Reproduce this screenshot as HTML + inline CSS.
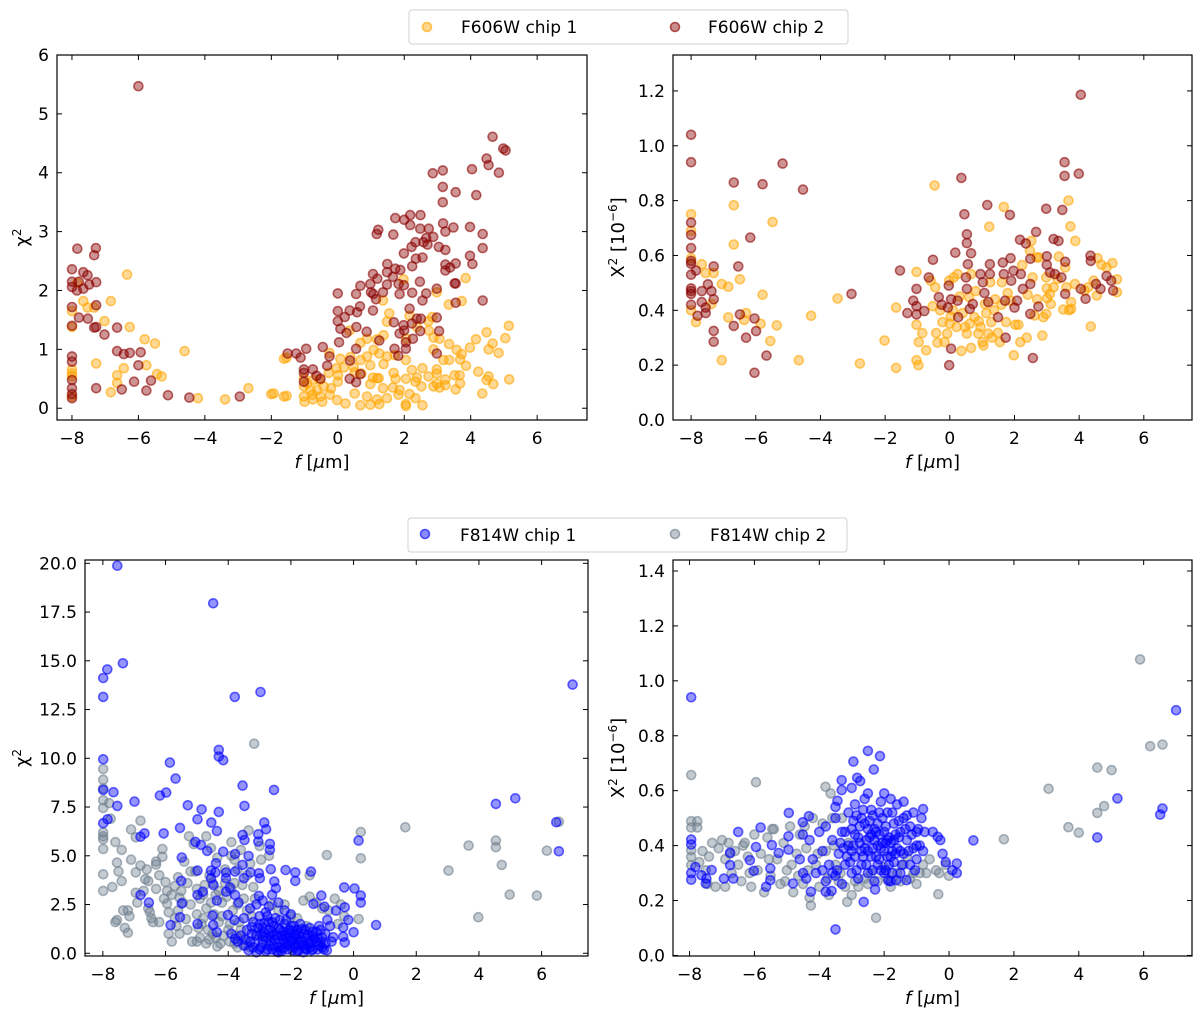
<!DOCTYPE html>
<html><head><meta charset="utf-8">
<style>
html,body{margin:0;padding:0;background:#fff;}
svg{display:block;font-family:"DejaVu Sans","Liberation Sans",sans-serif;}
</style></head>
<body>
<svg id="fig" width="1200" height="1013" viewBox="0 0 1200 1013" xmlns="http://www.w3.org/2000/svg">
  <g>
    <rect x="409" y="10" width="439" height="34" rx="3" fill="#fff" stroke="#d0d0d0"/>
    <circle cx="427" cy="27" r="4.5" fill="rgba(255,165,0,0.45)" stroke="rgba(255,165,0,0.65)" stroke-width="1.6"/>
    <text x="461" y="33" font-size="17">F606W chip 1</text>
    <circle cx="675" cy="27" r="4.5" fill="rgba(139,0,0,0.45)" stroke="rgba(139,0,0,0.65)" stroke-width="1.6"/>
    <text x="708" y="33" font-size="17">F606W chip 2</text>
  </g>
  <g>
    <rect x="408" y="518" width="439" height="34" rx="3" fill="#fff" stroke="#d0d0d0"/>
    <circle cx="425" cy="534" r="4.5" fill="rgba(0,0,255,0.45)" stroke="rgba(0,0,255,0.65)" stroke-width="1.6"/>
    <text x="460" y="541" font-size="17">F814W chip 1</text>
    <circle cx="675" cy="534" r="4.5" fill="rgba(112,128,144,0.45)" stroke="rgba(112,128,144,0.65)" stroke-width="1.6"/>
    <text x="710" y="541" font-size="17">F814W chip 2</text>
  </g>
</svg>
<script>
// ---------- DATA ----------
const xTicks = [-8,-6,-4,-2,0,2,4,6];
const yTicksTL = [0,1,2,3,4,5,6];
const yTicksTLLabels = ["0","1","2","3","4","5","6"];
const yTicksTR = [0,0.2,0.4,0.6,0.8,1.0,1.2];
const yTicksTRLabels = ["0.0","0.2","0.4","0.6","0.8","1.0","1.2"];
const yTicksBL = [0,2.5,5,7.5,10,12.5,15,17.5,20];
const yTicksBLLabels = ["0.0","2.5","5.0","7.5","10.0","12.5","15.0","17.5","20.0"];
const yTicksBR = [0,0.2,0.4,0.6,0.8,1.0,1.2,1.4];
const yTicksBRLabels = ["0.0","0.2","0.4","0.6","0.8","1.0","1.2","1.4"];

// top-left: F606W chi2
const tlChip1 = [[-6.34,2.27],[-7.84,2.13],[-7.66,1.82],[-7.53,1.71],[-7.33,1.71],[-6.83,1.82],[-8,1.65],[-7.02,1.48],[-8,1.38],[-6.26,1.38],[-5.81,1.17],[-5.5,1.1],[-4.61,0.97],[-7.27,0.76],[-8,0.66],[-8,0.59],[-8,0.54],[-6.44,0.68],[-6.64,0.56],[-6.64,0.43],[-5.76,0.73],[-5.44,0.58],[-5.3,0.54],[-6.83,0.27],[-8,0.2],[-4.21,0.17],[-3.39,0.15],[-2.69,0.34],[-1.93,0.25],[-1.54,0.21],[-1.54,0.86],
[3.85,2.21],[1.98,2.19],[2.98,1.97],[1.36,1.83],[3.34,1.76],[3.73,1.82],[1.55,1.61],[1.48,1.47],[2.16,1.57],[2.84,1.55],[2.73,1.48],[0.36,1.32],[2.38,1.38],[2.74,1.32],[5.15,1.4],[4.48,1.29],[1.38,1.24],[0.68,1.11],[0.88,1.18],[1.18,1.17],[2.06,1.18],[2.88,1.2],[3.06,1.18],[4.16,1.17],[5.04,1.19],[4.66,1.1],[4.54,1.0],[4.84,0.94],[3.98,1.03],[3.35,1.09],[3.58,0.99],[3.73,0.92],[-0.25,0.94],[0.08,0.84],[0.38,0.87],[0.69,0.82],[0.88,0.88],[1.08,0.99],[1.25,0.93],[1.48,0.88],[1.72,0.9],[2.05,0.82],[2.88,1.0],[3.18,0.82],[3.35,0.82],[3.68,0.83],[3.86,0.72],[-1.62,0.84],[-0.04,0.68],[0.18,0.69],[0.48,0.7],[0.51,0.61],[0.71,0.59],[0.98,0.73],[1.38,0.75],[-1.02,0.51],[-0.92,0.42],[-0.74,0.48],[-0.55,0.48],[-0.42,0.37],[-0.27,0.6],[0.01,0.56],[1.06,0.52],[1.23,0.51],[1.68,0.6],[1.74,0.5],[2.05,0.5],[2.23,0.65],[2.38,0.52],[2.55,0.68],[2.73,0.54],[2.98,0.66],[2.98,0.59],[3.24,0.49],[3.52,0.56],[3.67,0.56],[4.23,0.62],[4.54,0.54],[5.16,0.49],[4.48,0.48],[4.68,0.41],[3.68,0.42],[-1.02,0.37],[-0.82,0.31],[-0.62,0.31],[-0.2,0.34],[0,0.45],[0.98,0.41],[1.18,0.51],[1.36,0.34],[1.66,0.35],[1.86,0.31],[2.34,0.45],[2.52,0.37],[2.98,0.42],[3.24,0.39],[-2.0,0.24],[-1.62,0.2],[-1.02,0.2],[-1.0,0.11],[-0.75,0.15],[-0.52,0.2],[-0.47,0.11],[-0.24,0.23],[-0.02,0.14],[0.23,0.08],[0.51,0.25],[0.68,0.05],[0.88,0.2],[0.98,0.06],[1.18,0.15],[1.25,0.07],[1.48,0.17],[1.83,0.23],[2.05,0.07],[2.05,0.04],[2.16,0.24],[2.34,0.17],[2.55,0.05],[2.88,0.37],[3.06,0.35],[3.55,0.32],[4.35,0.25],[-0.76,0.23]];
const tlChip2 = [[-6,5.47],[-7.84,2.71],[-7.28,2.72],[-7.33,2.6],[-8,2.36],[-7.66,2.31],[-7.53,2.26],[-8,2.15],[-8,2.06],[-7.79,2.15],[-7.48,2.1],[-7.27,2.14],[-7.66,2.03],[-7.85,2.0],[-8,1.72],[-7.27,1.75],[-7.79,1.54],[-7.52,1.52],[-8,1.4],[-7.33,1.37],[-7.27,1.38],[-7.02,1.25],[-6.64,1.37],[-6.64,0.97],[-6.44,0.92],[-6.26,0.94],[-5.93,0.95],[-6,0.73],[-8,0.88],[-8,0.79],[-8,0.48],[-8,0.34],[-8,0.24],[-8,0.17],[-7.27,0.34],[-6.5,0.32],[-6.13,0.45],[-5.76,0.3],[-5.62,0.47],[-5.11,0.22],[-4.47,0.18],[-2.95,0.2],
[4.66,4.61],[4.98,4.41],[5.05,4.38],[4.48,4.24],[4.54,4.13],[4.85,4.0],[2.86,3.99],[3.16,4.04],[4.04,4.06],[3.16,3.76],[3.55,3.67],[4.17,3.62],[3.16,3.5],[1.73,3.23],[2.0,3.2],[2.18,3.28],[2.18,3.11],[2.49,3.28],[3.17,3.14],[3.48,3.07],[3.98,3.08],[3.24,3.0],[2.48,3.05],[2.74,3.05],[1.22,3.03],[1.17,2.96],[1.67,2.95],[4.36,2.96],[2.87,2.91],[2.66,2.89],[2.58,2.82],[2.34,2.82],[2.22,2.74],[2.7,2.78],[3.04,2.74],[3.24,2.69],[4.36,2.72],[1.99,2.63],[2.35,2.54],[2.55,2.56],[3.98,2.59],[4.05,2.45],[1.49,2.45],[1.73,2.37],[1.88,2.35],[2.24,2.41],[3.24,2.44],[3.24,2.34],[3.38,2.39],[3.55,2.46],[1.06,2.28],[1.19,2.2],[1.48,2.31],[1.66,2.23],[2.47,2.15],[3.52,2.12],[3.55,2.12],[0.68,2.08],[0.98,2.11],[1.0,1.97],[1.48,2.1],[1.83,2.11],[1.99,2.09],[2.98,2.03],[0,1.95],[0.55,1.94],[1.07,1.94],[1.36,1.97],[1.86,1.94],[2.24,1.96],[2.66,1.95],[1.15,1.85],[2.55,1.83],[4.36,1.83],[0.67,1.73],[0.36,1.66],[0.58,1.63],[0,1.65],[1.06,1.66],[2.16,1.69],[3.55,1.79],[0.21,1.55],[0,1.48],[1.69,1.46],[2.38,1.52],[2.5,1.52],[2.98,1.54],[0.08,1.35],[0.56,1.38],[1.98,1.41],[2.23,1.44],[0.26,1.28],[0.87,1.3],[1.86,1.27],[2.0,1.32],[2.48,1.31],[3.05,1.31],[0.04,1.12],[1.25,1.15],[2.26,1.18],[2.05,1.12],[-1.51,0.93],[-1.25,0.93],[-1.12,0.86],[-0.95,1.01],[-0.45,1.04],[0.55,1.01],[1.71,1.01],[2.05,1.01],[-0.25,0.88],[0.37,0.81],[1.82,0.89],[2.98,0.93],[-1.02,0.66],[-1.02,0.6],[-0.75,0.66],[-0.52,0.5],[0.36,0.5],[0.55,0.44],[-0.32,0.72],[0.68,0.58],[-1.02,0.45],[-0.64,0.55]];

// top-right: F606W X2 [1e-6]
const trChip1 = [[-8,0.75],[-8,0.69],[-8,0.59],[-8,0.4],[-7.85,0.357],[-7.67,0.568],[-7.55,0.536],[-7.3,0.536],[-7.37,0.423],[-7.05,0.496],[-7.05,0.218],[-6.85,0.486],[-6.85,0.374],[-6.68,0.783],[-6.68,0.64],[-6.49,0.513],[-6.36,0.365],[-6.3,0.39],[-5.85,0.351],[-5.79,0.457],[-5.55,0.288],[-5.48,0.722],[-5.35,0.345],[-4.67,0.218],[-4.29,0.38],[-3.47,0.443],[-2.78,0.206],[-2.02,0.29],[-1.66,0.19],[-1.66,0.41],[-1.03,0.54],[-1.03,0.347],[-1.03,0.218],[-0.97,0.2],[-0.96,0.284],[-0.85,0.317],[-0.73,0.254],[-0.59,0.508],[-0.53,0.415],[-0.47,0.855],[-0.45,0.484],[-0.42,0.317],[-0.38,0.282],[-0.23,0.357],[-0.16,0.284],[-0.08,0.315],[-0.02,0.508],[0.0,0.351],[0.03,0.377],[0.12,0.52],[0.21,0.339],[0.24,0.532],[0.36,0.252],[0.4,0.39],[0.47,0.339],[0.53,0.315],[0.6,0.448],[0.62,0.351],[0.66,0.263],[0.66,0.532],[0.76,0.375],[0.88,0.315],[0.95,0.339],[1.01,0.284],[1.04,0.272],[1.09,0.423],[1.13,0.39],[1.19,0.315],[1.22,0.705],[1.25,0.502],[1.28,0.357],[1.37,0.4],[1.49,0.318],[1.55,0.284],[1.61,0.502],[1.67,0.777],[1.74,0.357],[1.79,0.463],[1.88,0.435],[1.98,0.236],[2.03,0.347],[2.12,0.347],[2.18,0.284],[2.24,0.565],[2.38,0.3],[2.41,0.457],[2.48,0.617],[2.52,0.653],[2.56,0.52],[2.62,0.381],[2.68,0.593],[2.76,0.593],[2.86,0.308],[2.89,0.375],[2.98,0.387],[2.98,0.52],[3.01,0.444],[3.1,0.46],[3.12,0.423],[3.21,0.484],[3.33,0.514],[3.37,0.596],[3.51,0.403],[3.57,0.556],[3.61,0.484],[3.67,0.8],[3.69,0.4],[3.73,0.706],[3.75,0.43],[3.88,0.653],[3.87,0.496],[4.17,0.472],[4.28,0.484],[4.36,0.341],[4.45,0.508],[4.57,0.59],[4.55,0.454],[4.69,0.566],[4.85,0.556],[5.03,0.572],[5.17,0.513],[5.17,0.466],[3.75,0.405],
[0.3,0.45],[0.8,0.47],[1.4,0.44],[1.6,0.42],[2.7,0.44],[3.0,0.48],[0.1,0.4],[-0.3,0.4],[0.9,0.36],[1.3,0.3]];
const trChip2 = [[-8,1.04],[-8,0.94],[-8,0.72],[-8,0.675],[-8,0.627],[-8,0.58],[-8,0.57],[-8,0.53],[-8,0.48],[-8,0.47],[-8,0.46],[-8,0.42],[-7.85,0.545],[-7.67,0.47],[-7.48,0.495],[-7.3,0.56],[-7.37,0.47],[-7.3,0.44],[-7.67,0.43],[-7.55,0.41],[-7.55,0.39],[-7.8,0.38],[-7.3,0.325],[-7.3,0.285],[-6.68,0.866],[-6.68,0.343],[-6.54,0.56],[-6.49,0.385],[-6.3,0.3],[-6.17,0.665],[-6.04,0.37],[-5.99,0.324],[-5.79,0.86],[-5.67,0.235],[-6.04,0.172],[-5.17,0.935],[-4.54,0.84],[-3.04,0.46],[-1.54,0.545],[-1.31,0.39],[-1.13,0.435],[-1.03,0.478],[-1.03,0.415],[-1.03,0.385],[-0.79,0.397],[-0.65,0.52],[-0.52,0.584],[-0.34,0.448],[-0.25,0.42],[-0.03,0.49],[0.04,0.44],[-0.06,0.41],[-0.02,0.2],[0.04,0.26],[0.17,0.61],[0.24,0.435],[0.26,0.375],[0.36,0.883],[0.45,0.75],[0.5,0.52],[0.53,0.478],[0.53,0.677],[0.53,0.645],[0.56,0.568],[0.62,0.405],[0.66,0.608],[0.71,0.423],[0.95,0.532],[1.02,0.502],[1.07,0.463],[1.16,0.784],[1.19,0.43],[1.24,0.568],[1.24,0.532],[1.49,0.375],[1.64,0.574],[1.67,0.532],[1.71,0.435],[1.73,0.3],[1.86,0.748],[1.88,0.59],[1.9,0.508],[1.97,0.544],[2.0,0.41],[2.08,0.435],[2.17,0.657],[2.2,0.532],[2.26,0.478],[2.35,0.644],[2.49,0.588],[2.49,0.496],[2.49,0.387],[2.57,0.226],[2.67,0.686],[2.74,0.414],[2.98,0.77],[3.0,0.597],[3.0,0.566],[3.1,0.538],[3.21,0.66],[3.25,0.532],[3.36,0.653],[3.45,0.52],[3.48,0.766],[3.55,0.94],[3.55,0.89],[3.57,0.577],[3.57,0.46],[3.99,0.898],[4.05,1.186],[4.05,0.478],[4.2,0.442],[4.35,0.599],[4.36,0.58],[4.52,0.496],[4.66,0.478],[4.85,0.525],[4.99,0.508],[5.05,0.472]];

// bottom-left: F814W chi2
const blChip1 = [[-7.54,19.88],[-4.48,17.95],[-7.99,14.12],[-7.86,14.56],[-7.36,14.87],[-7.99,13.15],[-3.79,13.15],[-2.97,13.4],[6.99,13.78],[-7.99,9.95],[-4.3,10.43],[-4.3,10.09],[-4.16,9.9],[-5.86,9.78],[-5.68,8.96],[-3.54,8.6],[-2.54,8.38],[-5.98,8.24],[-6.18,8.09],[-7.99,8.38],[-7.66,8.26],[-6.99,7.78],[-7.54,7.56],[-5.29,7.59],[-4.85,7.38],[-4.3,7.25],[-3.48,7.56],[4.54,7.66],[5.16,7.95],[-7.99,6.67],[-7.85,6.87],[-4.98,6.87],[-4.54,6.7],[-2.85,6.7],[6.47,6.72],[-5.54,6.43],[-4.36,6.27],[-2.79,6.36],[-6.06,6.15],[-6.67,6.15],[-6.8,5.98],[-3.54,6.07],[-3.04,6.1],[-3.48,5.81],[-3.04,5.73],[0.16,5.78],[-5.05,5.71],[-4.87,5.56],[-2.67,5.61],[-2.67,5.3],[-4.67,5.25],[-4.16,5.21],[-3.78,5.09],[-3.35,4.99],[-5.48,4.91],[6.55,5.23],[-4.39,4.62],[-3.54,4.53],[-4.55,4.24],[-4.41,4.14],[-4.07,4.14],[-3.78,4.19],[-3.29,4.14],[-3.02,4.1],[-2.64,4.31],[-2.17,4.27],[-1.86,4.15],[-1.36,4.19],[-4.98,4.24],[-5.5,3.71],[-4.55,3.85],[-4.07,3.85],[-3.5,3.85],[-2.99,3.85],[-2.53,3.68],[-1.86,3.71],[-4.47,3.5],[-3.95,3.38],[-2.48,3.33],[-0.3,3.38],[0.03,3.32],[-4.07,3.16],[-4.81,3.16],[-3.78,2.99],[-3.02,2.94],[-6.8,2.99],[-4.98,2.99],[-1.03,2.96],[0.23,2.96],[-6.53,2.6],[-5.48,2.56],[-4.36,2.7],[-3.67,2.6],[-1.28,2.53],[-0.93,2.39],[-0.28,2.36],[0.23,2.6],[-0.56,2.19],[-4.5,1.93],[-4.01,1.97],[-5.54,1.85],[-5.84,1.45],[-4.48,1.45],[-4.98,1.5],[-4.36,1.08],[0.72,1.45],[-0.17,1.71],[-0.33,1.32],[0.0,1.08],[-0.33,0.85],[-0.28,0.56],[-0.65,0.82],[-0.84,1.71],[-3.78,0.74],
[-3.4,1.2],[-3.3,0.6],[-3.2,1.6],[-3.2,0.3],[-3.1,0.9],[-3.0,1.9],[-3.0,0.2],[-2.9,1.3],[-2.9,0.5],[-2.8,2.1],[-2.8,0.8],[-2.8,0.1],[-2.7,1.6],[-2.7,0.4],[-2.6,1.1],[-2.6,0.2],[-2.5,1.8],[-2.5,0.7],[-2.4,1.3],[-2.4,0.3],[-2.3,0.9],[-2.3,0.1],[-2.2,1.5],[-2.2,0.5],[-2.1,1.0],[-2.1,0.2],[-2.0,1.4],[-2.0,0.6],[-1.9,0.9],[-1.9,0.3],[-1.8,1.2],[-1.8,0.1],[-1.7,0.7],[-1.7,1.5],[-1.6,0.4],[-1.6,1.0],[-1.5,0.8],[-1.5,0.2],[-1.4,1.3],[-1.4,0.5],[-1.3,0.9],[-1.3,0.2],[-1.2,0.6],[-1.2,1.1],[-1.1,0.4],[-1.1,1.4],[-1.0,0.8],[-1.0,0.3],[-0.9,1.0],[-0.9,0.5],[-3.6,0.9],[-3.5,0.4],[-3.5,1.8],[-3.3,2.3],[-3.1,2.5],[-2.9,2.7],[-2.7,2.4],[-2.6,3.0],[-2.4,2.6],[-2.2,2.2],[-2.0,2.0],[-3.9,1.0],[-3.8,1.7],[-3.7,0.6],[-2.95,1.0],[-2.65,0.65],[-2.35,1.2],[-2.05,0.85],[-1.75,0.45],[-1.45,0.95],[-1.15,0.75],[-3.25,1.0],[-2.85,1.55],[-2.55,0.95],[-2.25,0.7],[-1.95,1.15],[-1.65,1.25],[-1.35,0.65],[-1.05,1.2],[-0.85,0.15],[-0.75,1.4],[-0.7,0.6],
[-3.35,0.15],[-3.15,0.55],[-3.05,1.3],[-2.95,0.3],[-2.85,1.05],[-2.75,0.2],[-2.75,1.9],[-2.65,0.9],[-2.55,0.4],[-2.55,1.4],[-2.45,0.1],[-2.45,0.9],[-2.35,0.55],[-2.35,1.7],[-2.25,0.25],[-2.25,1.1],[-2.15,0.75],[-2.15,1.7],[-2.05,0.4],[-2.05,1.2],[-1.95,0.15],[-1.95,0.65],[-1.85,0.95],[-1.85,0.4],[-1.75,0.15],[-1.75,1.0],[-1.65,0.6],[-1.55,0.25],[-1.55,1.2],[-1.45,0.5],[-1.35,0.15],[-1.25,0.8],[-1.15,0.2],[-1.05,0.55],[-0.95,0.2],[-3.45,0.7],[-3.25,1.35],[-3.1,0.05],[-2.9,0.85],[-2.6,1.6],[-2.4,0.05],[-2.1,0.45],[-1.9,1.4],[-1.6,0.05],[-1.3,1.1],[-3.0,1.5],[-2.7,1.2],[-2.2,0.95],[-1.8,0.7],[-1.4,0.3]];
const blChip2 = [[-3.17,10.75],[1.65,6.46],[0.23,6.22],[0.23,4.87],[-0.85,5.04],[3.67,5.52],[4.54,5.78],[4.54,5.44],[4.73,4.53],[3.03,4.24],[3.98,1.85],[4.98,3.01],[5.85,2.96],[6.17,5.26],[6.55,6.75],[0.16,1.76],
[-7.99,9.45],[-7.99,8.9],[-7.99,8.45],[-7.99,7.85],[-7.99,7.45],[-7.99,6.2],[-7.99,6.0],[-7.99,5.85],[-7.99,5.35],[-7.99,4.05],[-7.99,3.2],[-7.8,7.7],[-7.75,6.9],[-7.6,5.7],[-7.55,4.65],[-7.5,4.2],[-7.4,5.3],[-7.4,3.7],[-7.55,1.7],[-7.6,1.6],[-7.35,2.2],[-7.2,2.2],[-7.15,1.9],[-7.3,1.3],[-7.2,1.05],[-7.1,6.35],[-6.95,5.95],[-6.95,4.15],[-6.95,3.1],[-6.8,4.5],[-6.8,6.8],[-6.7,3.2],[-6.65,3.8],[-6.55,3.7],[-6.55,2.3],[-6.5,2.1],[-6.45,1.8],[-6.4,1.6],[-6.3,4.7],[-6.3,4.55],[-6.2,4.0],[-6.2,1.6],[-6.1,5.35],[-6.1,4.95],[-6.0,3.65],[-5.95,3.2],[-5.95,2.55],[-5.9,1.0],[-5.8,3.0],[-5.7,3.45],[-5.65,1.4],[-5.6,3.9],[-5.55,2.85],[-5.5,3.2],[-5.45,2.6],[-5.35,1.75],[-5.3,1.2],[-5.25,6.0],[-5.2,4.2],[-5.2,2.5],[-5.15,0.6],[-5.1,5.6],[-5.05,4.2],[-5.0,3.3],[-5.0,2.0],[-5.0,0.6],[-4.9,2.8],[-4.85,1.5],[-4.8,3.0],[-4.7,6.0],[-4.7,2.3],[-4.65,1.2],[-4.6,0.7],[-4.55,5.4],[-4.5,3.6],[-4.45,2.0],[-4.4,0.8],[-4.35,4.9],[-4.3,3.2],[-4.3,1.6],[-4.25,0.5],[-4.2,2.6],[-4.1,4.3],[-4.0,1.2],[-3.95,0.6],[-3.9,5.7],[-3.9,5.0],[-3.85,2.2],[-3.8,3.6],[-3.75,0.9],[-3.7,4.3],[-3.65,1.6],[-3.6,5.3],[-3.5,2.8],[-3.45,0.4],[-3.4,4.0],[-3.35,6.3],[-3.2,3.4],[-3.1,1.0],[-3.0,5.5],[-2.95,4.8],[-2.7,5.0],[-2.6,2.5],[-2.4,2.2],[-2.2,2.5],[-2.0,1.9],[-1.8,1.8],[-1.6,2.7],[-1.4,4.0],[-1.4,2.9],[-1.2,2.6],[-1.0,2.3],[-0.8,2.2],[-0.6,2.8],[-0.4,2.5],[-0.3,1.9],[-0.5,1.5],[-1.7,0.5],[-1.5,1.4],[-2.3,0.3],[-2.8,0.6],[-3.3,0.3],
[-4.9,0.8],[-4.8,1.8],[-4.7,0.5],[-4.55,2.6],[-4.5,1.0],[-4.4,3.0],[-4.2,1.9],[-4.15,0.9],[-4.05,2.9],[-3.95,1.5],[-3.9,3.3],[-3.8,0.5],[-3.7,2.5],[-3.6,1.2],[-3.55,3.5],[-3.5,0.7],[-3.4,2.2],[-3.3,4.6],[-3.25,1.9],[-3.15,2.8],[-5.4,4.7],[-5.3,3.6],[-5.6,2.2],[-5.7,1.8],[-5.9,2.1],[-6.05,2.8],[-6.3,3.3],[-6.6,4.3],[-6.9,2.6],[-7.1,4.8],[-7.7,3.4],[-4.95,1.3],[-4.6,4.0],[-4.75,3.5],[-4.1,3.6],[-3.8,4.8],[-5.55,1.0],[-5.8,0.6],[-4.35,0.35],[-3.7,0.3]];

// bottom-right: F814W X2 [1e-6]
const brChip1 = [[-7.95,0.94],[7.0,0.893],[-3.5,0.095],[-2.63,0.195],[-2.5,0.745],[-2.13,0.726],[-2.32,0.677],[-2.95,0.706],[-3.31,0.638],[-2.83,0.647],[-2.74,0.635],[-3.31,0.602],[-3.0,0.61],[-3.44,0.563],[-3.5,0.541],[0.75,0.419],[5.19,0.572],[6.58,0.535],[6.51,0.513],[4.57,0.43],[-4.94,0.519],[-6.5,0.45],[-5.81,0.466],[-7.95,0.422],[-7.95,0.404],[-5.95,0.395],[-6.75,0.374],[-7.82,0.322],[-7.95,0.3],[-7.95,0.276],[-7.63,0.292],[-7.48,0.28],[-7.5,0.262],[-7.32,0.311],[-6.94,0.28],[-6.65,0.28],[-6.75,0.329],[-6.14,0.347],[-6.02,0.308],[-5.64,0.25],[-5.51,0.274],[-5.51,0.317],[-5.46,0.402],[-5.25,0.373],[-4.95,0.385],[-4.95,0.434],[-4.81,0.262],[-4.51,0.485],[-4.51,0.44],[-4.32,0.507],[-4.26,0.232],[-3.8,0.232],[-3.62,0.235],[-2.28,0.24],[-1.63,0.274],[-1.31,0.274],[-1.87,0.272],[-0.35,0.432],[-0.27,0.42],[0.24,0.335],[0.24,0.3],[-0.5,0.45],[-0.8,0.533],
[-4.3,0.42],[-4.2,0.35],[-4.1,0.3],[-4.0,0.45],[-3.9,0.38],[-3.8,0.27],[-3.8,0.47],[-3.7,0.33],[-3.6,0.42],[-3.5,0.29],[-3.5,0.5],[-3.4,0.37],[-3.3,0.45],[-3.3,0.26],[-3.2,0.33],[-3.1,0.4],[-3.1,0.52],[-3.0,0.3],[-3.0,0.46],[-2.9,0.36],[-2.9,0.55],[-2.8,0.28],[-2.8,0.43],[-2.7,0.5],[-2.7,0.33],[-2.6,0.39],[-2.6,0.57],[-2.5,0.3],[-2.5,0.46],[-2.4,0.36],[-2.4,0.53],[-2.3,0.42],[-2.3,0.27],[-2.2,0.48],[-2.2,0.33],[-2.1,0.39],[-2.1,0.56],[-2.0,0.3],[-2.0,0.45],[-1.9,0.36],[-1.9,0.52],[-1.8,0.41],[-1.8,0.27],[-1.7,0.48],[-1.7,0.34],[-1.6,0.39],[-1.6,0.55],[-1.5,0.3],[-1.5,0.45],[-1.4,0.37],[-1.4,0.5],[-1.3,0.42],[-1.2,0.33],[-1.2,0.47],[-1.1,0.39],[-1.1,0.52],[-1.0,0.35],[-1.0,0.45],[-0.9,0.4],[-0.85,0.5],[-2.95,0.4],[-2.75,0.47],[-2.55,0.42],[-2.35,0.39],[-2.15,0.44],[-1.95,0.41],[-1.75,0.38],[-1.55,0.43],[-2.65,0.36],[-2.45,0.49],[-2.25,0.36],[-2.05,0.5],[-1.85,0.33],[-1.65,0.44],[-2.85,0.51],[-3.15,0.36],[-2.5,0.59],[-2.0,0.59],[-1.8,0.57],[-1.4,0.56],[-3.2,0.45],[-3.6,0.3],[-3.9,0.31],[-4.4,0.28],[-4.6,0.35],[-4.5,0.3],
[-3.05,0.34],[-2.95,0.49],[-2.85,0.31],[-2.75,0.41],[-2.65,0.53],[-2.55,0.33],[-2.45,0.43],[-2.35,0.31],[-2.35,0.51],[-2.25,0.45],[-2.15,0.35],[-2.15,0.52],[-2.05,0.41],[-1.95,0.31],[-1.95,0.47],[-1.85,0.43],[-1.75,0.3],[-1.75,0.52],[-1.65,0.37],[-1.55,0.49],[-1.45,0.33],[-1.35,0.46],[-1.25,0.38],[-1.15,0.44],[-1.05,0.31],[-0.95,0.46],[-3.35,0.41],[-3.45,0.31],[-3.25,0.39],[-2.7,0.38],[-2.5,0.38],[-2.3,0.46],[-2.1,0.31],[-1.9,0.42],[-1.7,0.42],[-1.5,0.38],[-2.6,0.48],[-2.4,0.44],[-2.2,0.4],[-2.0,0.38],[-1.8,0.36],[-2.9,0.44],[-3.0,0.38],[-1.3,0.51],[-1.0,0.4],[-0.8,0.38],[-0.75,0.45],[-0.2,0.37],[-0.1,0.34],[0.1,0.31]];
const brChip2 = [[5.89,1.078],[6.2,0.762],[6.58,0.768],[4.57,0.684],[5.01,0.675],[3.07,0.607],[4.78,0.544],[4.57,0.519],[3.68,0.467],[4.0,0.447],[1.69,0.423],[-7.95,0.657],[-5.95,0.631],[-3.81,0.614],[-3.65,0.59],[-0.33,0.223],[-2.25,0.137],[-4.26,0.182],[-3.14,0.195],[-7.95,0.489],[-7.76,0.489],[-7.95,0.466],[-7.76,0.466],[-7.95,0.383],[-7.95,0.359],[-7.95,0.329],
[-7.7,0.34],[-7.6,0.38],[-7.5,0.31],[-7.4,0.36],[-7.3,0.41],[-7.2,0.25],[-7.1,0.39],[-7.0,0.42],[-6.9,0.35],[-6.9,0.25],[-6.8,0.41],[-6.7,0.3],[-6.6,0.38],[-6.5,0.33],[-6.4,0.27],[-6.3,0.41],[-6.2,0.36],[-6.1,0.25],[-6.0,0.44],[-5.9,0.31],[-5.8,0.37],[-5.7,0.23],[-5.6,0.43],[-5.5,0.29],[-5.4,0.46],[-5.3,0.35],[-5.2,0.26],[-5.1,0.41],[-5.0,0.31],[-4.9,0.47],[-4.8,0.23],[-4.7,0.37],[-4.6,0.44],[-4.5,0.26],[-4.4,0.39],[-4.3,0.21],[-4.2,0.5],[-4.1,0.33],[-4.0,0.25],[-3.9,0.48],[-3.8,0.38],[-3.7,0.22],[-3.6,0.5],[-3.5,0.33],[-3.4,0.27],[-3.3,0.5],[-3.2,0.25],[-3.0,0.22],[-2.8,0.25],[-2.6,0.28],[-2.4,0.3],[-2.2,0.27],[-2.0,0.32],[-1.8,0.25],[-1.6,0.3],[-1.4,0.33],[-1.2,0.28],[-1.0,0.26],[-0.8,0.33],[-0.6,0.35],[-0.4,0.31],[-0.3,0.3],[-0.1,0.33],[0.0,0.29],[-0.9,0.3],[-1.3,0.36],[-3.1,0.41],[-4.45,0.47],[-5.45,0.46],[-6.35,0.4],
[-7.45,0.26],[-6.75,0.37],[-6.15,0.3],[-5.55,0.35],[-5.05,0.27],[-4.85,0.33],[-4.65,0.29],[-4.35,0.31],[-4.05,0.37],[-3.75,0.28],[-3.55,0.4],[-3.35,0.3],[-2.9,0.27],[-2.5,0.26],[-1.9,0.28],[-1.5,0.27],[-1.1,0.3],[-0.7,0.3]];

// ---------- DRAWING ----------
const NS = "http://www.w3.org/2000/svg";
const svg = document.getElementById('fig');
function mk(tag, attrs, parent){
  const e = document.createElementNS(NS, tag);
  for (const k in attrs) e.setAttribute(k, attrs[k]);
  (parent||svg).appendChild(e);
  return e;
}
const COLORS = {
  orange:[255,165,0], darkred:[139,0,0], blue:[0,0,255], gray:[112,128,144]
};
function panel(opt){
  const g = mk('g', {});
  
  
  const L=opt.box[0], T=opt.box[1], R=opt.box[2], B=opt.box[3];
  const sx = v => L + (v - opt.xlim[0])/(opt.xlim[1]-opt.xlim[0])*(R-L);
  const sy = v => B - (v - opt.ylim[0])/(opt.ylim[1]-opt.ylim[0])*(B-T);
  opt.series.forEach(s => {
    const sg = mk('g', {}, g);
    
    
    const c = COLORS[s.color];
    s.data.forEach(p => {
      const cx = sx(p[0]), cy = sy(p[1]);
      const pt = mk('circle', {cx:cx.toFixed(1), cy:cy.toFixed(1), r:4.5,
        fill:`rgba(${c},0.42)`, stroke:`rgba(${c},0.6)`, 'stroke-width':1.6}, sg);
      
      
    });
  });
  const fr = mk('rect', {x:L, y:T, width:R-L, height:B-T, fill:'none', stroke:'#000', 'stroke-width':1.2}, g);
  
  
  const xg = mk('g', {}, g);
  
  
  xTicks.forEach(v => {
    const x = sx(v);
    mk('line', {x1:x, x2:x, y1:B, y2:B-5, stroke:'#000', 'stroke-width':1}, xg);
    mk('line', {x1:x, x2:x, y1:T, y2:T+5, stroke:'#000', 'stroke-width':1}, xg);
    const t = mk('text', {x:x, y:B+24, 'font-size':17, 'text-anchor':'middle'}, xg);
    
    
    t.textContent = (v<0?'\u2212':'') + Math.abs(v);
  });
  const xl = mk('text', {x:(L+R)/2, y:B+48, 'font-size':18, 'text-anchor':'middle'}, g);
  
  
  xl.innerHTML = '<tspan font-style="italic">f</tspan> [<tspan font-style="italic">μ</tspan>m]';
  const yg = mk('g', {}, g);
  
  
  opt.yticks.forEach((v,i) => {
    const y = sy(v);
    mk('line', {x1:L, x2:L+5, y1:y, y2:y, stroke:'#000', 'stroke-width':1}, yg);
    mk('line', {x1:R, x2:R-5, y1:y, y2:y, stroke:'#000', 'stroke-width':1}, yg);
    const t = mk('text', {x:L-8, y:y+6, 'font-size':17, 'text-anchor':'end'}, yg);
    
    
    t.textContent = opt.ylabels[i];
  });
  const cy = (T+B)/2;
  const yl = mk('text', {x:0, y:0, 'font-size':18, 'text-anchor':'middle',
    transform:`translate(${opt.ylx},${cy}) rotate(-90)`}, g);
  
  
  yl.innerHTML = opt.ylabel;
}

panel({name:'panel-f606w-chi2', box:[57,55,587,420], xlim:[-8.45,7.5], ylim:[-0.2,6.0],
  yticks:yTicksTL, ylabels:yTicksTLLabels, ylx:28, ylabel:'χ<tspan dy="-7" font-size="12">2</tspan>',
  series:[{name:'series-f606w-chip1', color:'orange', data:tlChip1},{name:'series-f606w-chip2', color:'darkred', data:tlChip2}]});
panel({name:'panel-f606w-x2', box:[673,55,1192,420], xlim:[-8.56,7.49], ylim:[0,1.331],
  yticks:yTicksTR, ylabels:yTicksTRLabels, ylx:624, ylabel:'X<tspan dy="-7" font-size="12">2</tspan><tspan dy="7"> [10</tspan><tspan dy="-7" font-size="12">−6</tspan><tspan dy="7">]</tspan>',
  series:[{name:'series-f606w-chip1', color:'orange', data:trChip1},{name:'series-f606w-chip2', color:'darkred', data:trChip2}]});
panel({name:'panel-f814w-chi2', box:[85,560,588,956], xlim:[-8.57,7.48], ylim:[-0.14,20.17],
  yticks:yTicksBL, ylabels:yTicksBLLabels, ylx:28, ylabel:'χ<tspan dy="-7" font-size="12">2</tspan>',
  series:[{name:'series-f814w-chip2', color:'gray', data:blChip2},{name:'series-f814w-chip1', color:'blue', data:blChip1}]});
panel({name:'panel-f814w-x2', box:[673,560,1192,956], xlim:[-8.51,7.49], ylim:[-0.002,1.44],
  yticks:yTicksBR, ylabels:yTicksBRLabels, ylx:624, ylabel:'X<tspan dy="-7" font-size="12">2</tspan><tspan dy="7"> [10</tspan><tspan dy="-7" font-size="12">−6</tspan><tspan dy="7">]</tspan>',
  series:[{name:'series-f814w-chip2', color:'gray', data:brChip2},{name:'series-f814w-chip1', color:'blue', data:brChip1}]});
</script>
</body></html>
